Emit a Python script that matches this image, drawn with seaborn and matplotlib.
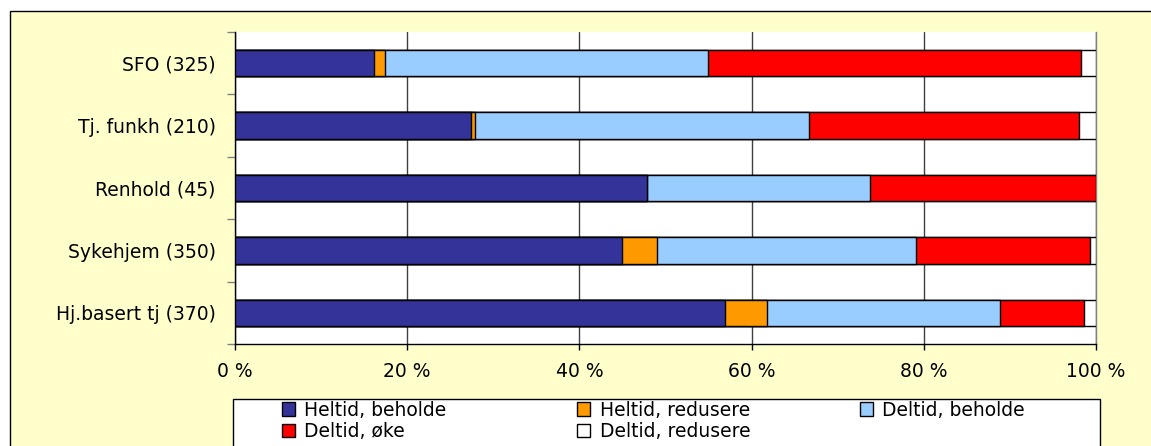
import numpy as np
import pandas as pd
import matplotlib
matplotlib.use("Agg")
import matplotlib.pyplot as plt
import seaborn as sns
from matplotlib.patches import Rectangle, Patch

# values (percent of each group)
categories = ["SFO (325)", "Tj. funkh (210)", "Renhold (45)", "Sykehjem (350)", "Hj.basert tj (370)"]
heltid_beholde = [16.1, 27.4, 47.8, 44.9, 56.9]
heltid_redusere = [1.3, 0.5, 0.0, 4.1, 4.9]
deltid_beholde = [37.5, 38.8, 26.0, 30.1, 27.1]
deltid_oke = [43.3, 31.3, 26.2, 20.2, 9.7]
deltid_redusere = [1.8, 2.0, 0.0, 0.7, 1.4]

series_names = ["Heltid, beholde", "Heltid, redusere", "Deltid, beholde", "Deltid, øke", "Deltid, redusere"]
series_colors = ["#333399", "#FF9900", "#99CCFF", "#FF0000", "#FFFFFF"]
x_ticks = [0, 20, 40, 60, 80, 100]
x_ticklabels = ["0 %", "20 %", "40 %", "60 %", "80 %", "100 %"]

sns.set_style("white")
plt.rcParams['font.family'] = ['DejaVu Sans']
plt.rcParams['text.color'] = 'black'
plt.rcParams['xtick.labelcolor'] = 'black'
plt.rcParams['ytick.labelcolor'] = 'black'

W, H = 1151, 446
fig = plt.figure(figsize=(W / 100, H / 100), dpi=100)
fig.patch.set_facecolor("white")

# yellow chart area with black border (runs off right/bottom edge)
fig.add_artist(Rectangle((9.5 / W, -0.1), 1.2, 1 - 10.5 / H + 0.1,
                         transform=fig.transFigure, facecolor="#FFFFCC",
                         edgecolor="black", lw=1, zorder=-2))

ax = fig.add_axes([235 / W, 1 - 344 / H, 861 / W, 312 / H])
ax.set_facecolor("white")

# stacked bars: draw cumulative totals from the back layer forward
df = pd.DataFrame({"cat": categories,
                   series_names[0]: heltid_beholde,
                   series_names[1]: heltid_redusere,
                   series_names[2]: deltid_beholde,
                   series_names[3]: deltid_oke,
                   series_names[4]: deltid_redusere})
cum = df[series_names].cumsum(axis=1)
for name, col in reversed(list(zip(series_names, series_colors))):
    sns.barplot(x=cum[name], y=df["cat"], order=categories, orient="h",
                color=col, saturation=1, edgecolor="black", linewidth=1,
                width=0.42, ax=ax, zorder=3)

ax.set_xlim(0, 100)
ax.set_ylim(4.5, -0.5)
ax.set_xlabel("")
ax.set_ylabel("")

ax.set_xticks(x_ticks)
ax.set_xticklabels(x_ticklabels, fontsize=13.5)
ax.tick_params(axis="x", direction="out", length=4, width=1, color="black",
               labelcolor="black", pad=9, bottom=True)
ax.set_yticks(range(len(categories)))
ax.set_yticklabels(categories, fontsize=13.5)
ax.set_yticks(np.arange(-0.5, len(categories), 1), minor=True)
ax.tick_params(axis="y", which="major", length=0, pad=14, labelcolor="black")
ax.tick_params(axis="y", which="minor", direction="out", length=6, width=1, color="#808080", left=True)

ax.grid(axis="x", color="#404040", lw=1)
ax.grid(axis="y", visible=False)
ax.set_axisbelow(True)

ax.spines["top"].set_visible(False)
ax.spines["right"].set_color("#808080")
ax.spines["left"].set_color("black")
ax.spines["bottom"].set_color("black")
for s in ax.spines.values():
    s.set_linewidth(1)

# legend box (bottom edge falls off the picture)
fig.add_artist(Rectangle((232.5 / W, -0.1), (1100 - 232.5) / W, 1 - 399 / H + 0.1,
                         transform=fig.transFigure, facecolor="white",
                         edgecolor="black", lw=1, zorder=-1))

handles = [Patch(facecolor=c, edgecolor="black", lw=1, label=n)
           for n, c in zip(series_names, series_colors)]
columns = [[handles[0], handles[3]], [handles[1], handles[4]], [handles[2]]]
col_x = [282, 577, 860]
for hs, x in zip(columns, col_x):
    fig.legend(handles=hs, loc="upper left", bbox_to_anchor=(x / W, 1 - 400.5 / H),
               frameon=False, fontsize=13.5, handlelength=0.7, handleheight=0.7,
               handletextpad=0.5, labelspacing=0.15, borderpad=0, borderaxespad=0,
               labelcolor="black")

fig.savefig("out.png", dpi=100)
